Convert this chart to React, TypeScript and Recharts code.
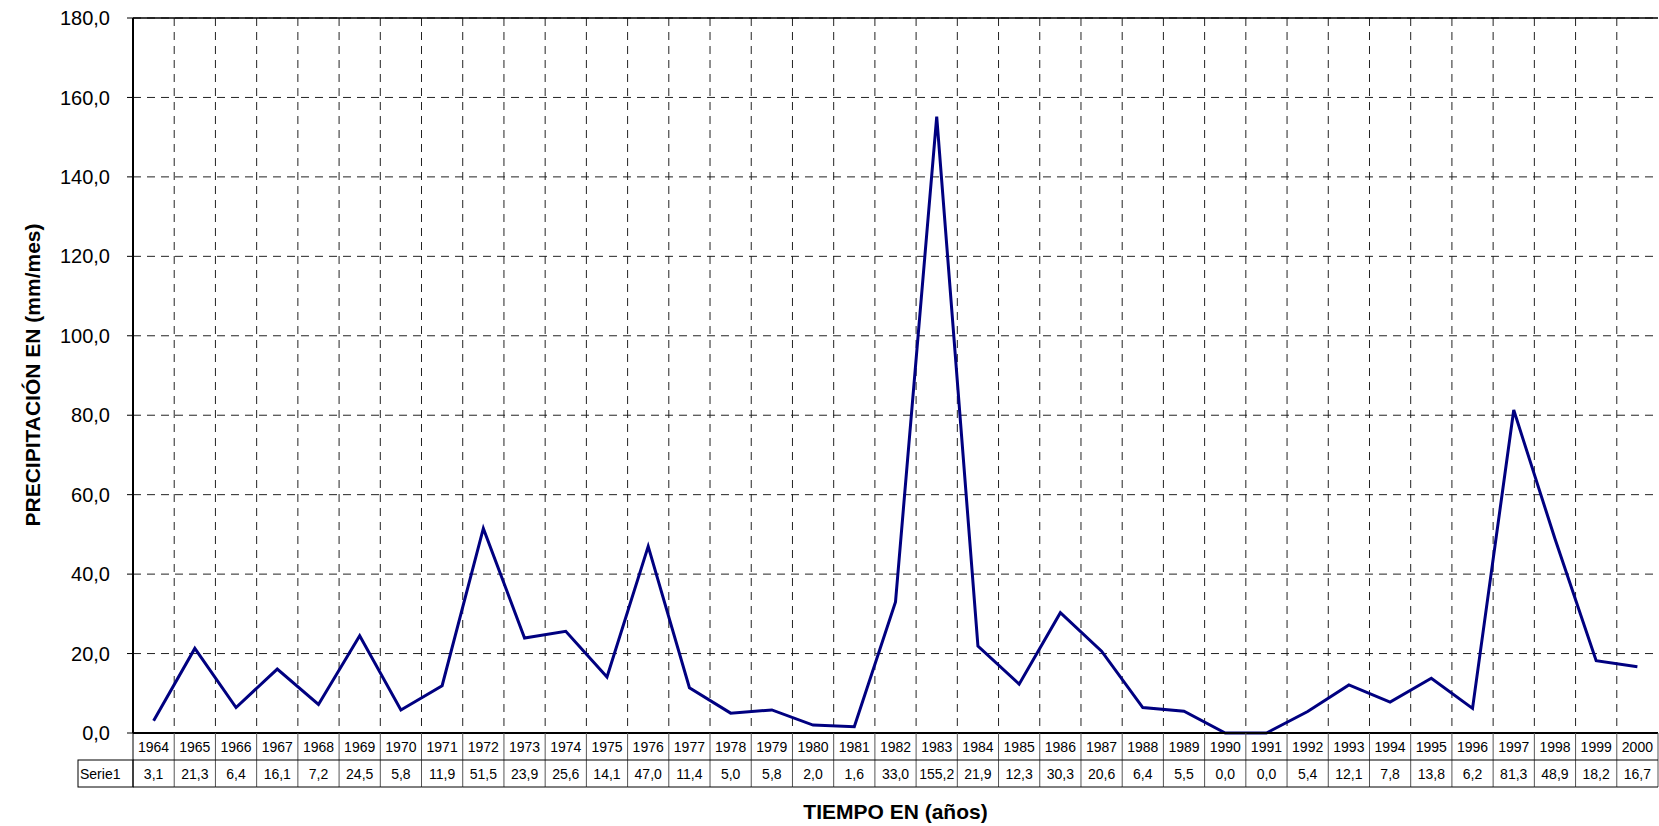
import { CartesianGrid, Line, LineChart, ReferenceLine, XAxis, YAxis } from 'recharts';

const years = [
  '1964', '1965', '1966', '1967', '1968', '1969', '1970', '1971', '1972', '1973',
  '1974', '1975', '1976', '1977', '1978', '1979', '1980', '1981', '1982', '1983',
  '1984', '1985', '1986', '1987', '1988', '1989', '1990', '1991', '1992', '1993',
  '1994', '1995', '1996', '1997', '1998', '1999', '2000',
];
const precip = [
  3.1, 21.3, 6.4, 16.1, 7.2, 24.5, 5.8, 11.9, 51.5, 23.9,
  25.6, 14.1, 47.0, 11.4, 5.0, 5.8, 2.0, 1.6, 33.0, 155.2,
  21.9, 12.3, 30.3, 20.6, 6.4, 5.5, 0.0, 0.0, 5.4, 12.1,
  7.8, 13.8, 6.2, 81.3, 48.9, 18.2, 16.7,
];
const yTicks = [0, 20, 40, 60, 80, 100, 120, 140, 160, 180];
const seriesName = 'Serie1';

const data = years.map((year, i) => ({ year, value: precip[i] }));

const W = 1659;
const H = 826;
const M = { top: 18, right: 1, bottom: 0, left: 0 };
const Y_AXIS_W = 133;
const X_AXIS_H = 93;
const PLOT_W = W - M.left - M.right - Y_AXIS_W;
const ROW_H = 27;
const FONT = "Arial, 'Liberation Sans', sans-serif";

const fmt = (v: number) => v.toFixed(1).replace('.', ',');

// celdas de la tabla de datos bajo el eje X
function TableTick(props: any) {
  const { x, y, payload } = props;
  const i = payload?.index ?? props.index ?? 0;
  const w = PLOT_W / years.length;
  const left = x - w / 2;
  const right = x + w / 2;
  const line = { stroke: '#000', strokeWidth: 1 };
  return (
    <g fontFamily={FONT} fontSize={14} fill="#000">
      <line x1={right} y1={y} x2={right} y2={y + 2 * ROW_H} {...line} stroke="#555" />
      {i === 0 && <line x1={left} y1={y} x2={left} y2={y + 2 * ROW_H} {...line} />}
      <line x1={left} y1={y + ROW_H} x2={right} y2={y + ROW_H} {...line} />
      <line x1={left} y1={y + 2 * ROW_H} x2={right} y2={y + 2 * ROW_H} {...line} />
      <text x={x} y={y + 19} textAnchor="middle" fill="#000">{years[i]}</text>
      <text x={x} y={y + ROW_H + 19} textAnchor="middle" fill="#000">{fmt(precip[i])}</text>
      {i === 0 && (
        <g>
          <rect x={left - 55} y={y + ROW_H} width={55} height={ROW_H} fill="none" {...line} />
          <text x={left - 53} y={y + ROW_H + 19} fill="#000">{seriesName}</text>
        </g>
      )}
    </g>
  );
}

export default function App() {
  return (
    <div style={{ position: 'absolute', left: 0, top: 0, width: W, height: H, background: '#fff' }}>
      <LineChart width={W} height={H} data={data} margin={M} style={{ fontFamily: FONT }}>
        <CartesianGrid
          stroke="#222"
          strokeDasharray="8 6"
          verticalCoordinatesGenerator={({ offset }: any) =>
            years.slice(1).map((_, i) => offset.left + ((i + 1) * offset.width) / years.length)
          }
        />
        <XAxis
          dataKey="year"
          scale="band"
          interval={0}
          height={X_AXIS_H}
          tickLine={false}
          tickSize={0}
          tickMargin={0}
          axisLine={{ stroke: '#000', strokeWidth: 2 }}
          tick={<TableTick />}
          label={{
            content: () => (
              <text x={Y_AXIS_W + PLOT_W / 2} y={819} textAnchor="middle" fontFamily={FONT} fontSize={21} fontWeight="bold" fill="#000">
                TIEMPO EN (años)
              </text>
            ),
          }}
        />
        <YAxis
          domain={[0, 180]}
          ticks={yTicks}
          width={Y_AXIS_W}
          tickFormatter={fmt}
          tick={{ fontSize: 20, fill: '#000', fontFamily: FONT }}
          tickLine={{ stroke: '#000' }}
          tickMargin={17}
          axisLine={{ stroke: '#000', strokeWidth: 2 }}
          label={{
            content: () => (
              <text x={40} y={375} transform="rotate(-90 40 375)" textAnchor="middle" fontFamily={FONT} fontSize={21} fontWeight="bold" fill="#000">
                PRECIPITACIÓN EN (mm/mes)
              </text>
            ),
          }}
        />
        <ReferenceLine y={180} stroke="#000" strokeWidth={1.5} />
        <Line
          type="linear"
          dataKey="value"
          stroke="#000080"
          strokeWidth={3}
          dot={false}
          isAnimationActive={false}
        />
      </LineChart>
    </div>
  );
}
